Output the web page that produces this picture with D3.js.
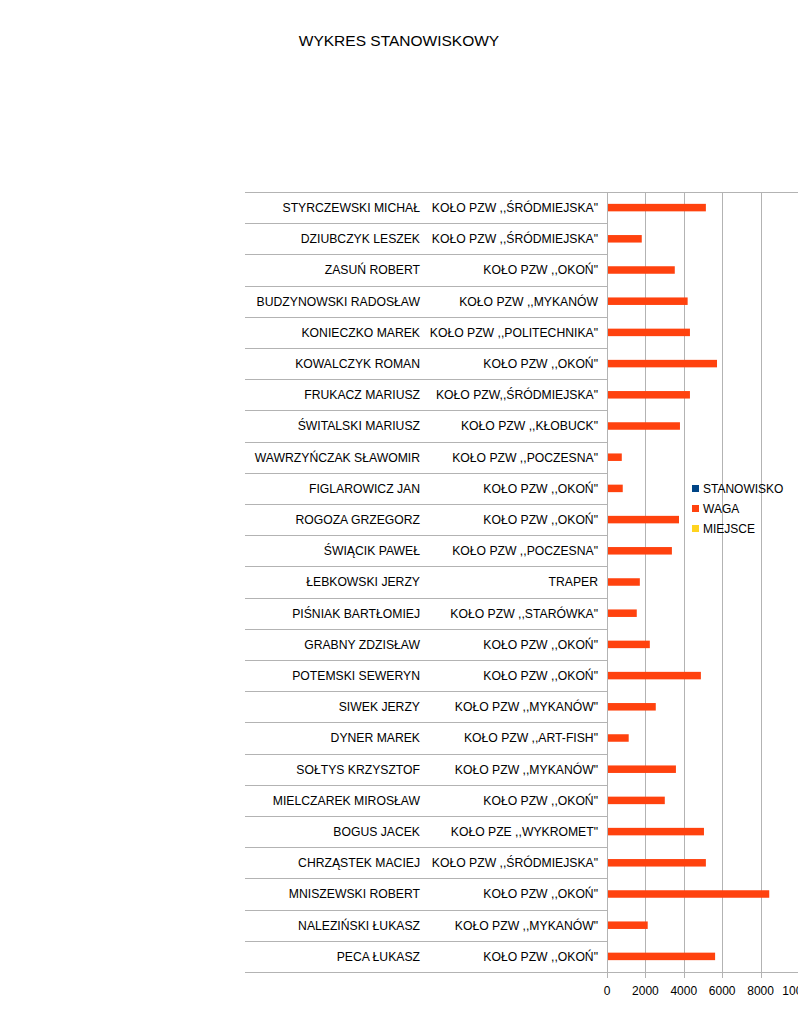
<!DOCTYPE html>
<html>
<head>
<meta charset="utf-8">
<script src="https://cdn.jsdelivr.net/npm/d3@7"></script>
<style>
  html, body { margin: 0; padding: 0; background: #fff; }
  svg { display: block; }
  text { font-family: "Liberation Sans", Arial, sans-serif; fill: #000; }
</style>
</head>
<body>
<svg id="chart" width="798" height="1018"></svg>
<script>
const names = [
  "STYRCZEWSKI MICHAŁ", "DZIUBCZYK LESZEK", "ZASUŃ ROBERT", "BUDZYNOWSKI RADOSŁAW",
  "KONIECZKO MAREK", "KOWALCZYK ROMAN", "FRUKACZ MARIUSZ", "ŚWITALSKI MARIUSZ",
  "WAWRZYŃCZAK SŁAWOMIR", "FIGLAROWICZ JAN", "ROGOZA GRZEGORZ", "ŚWIĄCIK PAWEŁ",
  "ŁEBKOWSKI JERZY", "PIŚNIAK BARTŁOMIEJ", "GRABNY ZDZISŁAW", "POTEMSKI SEWERYN",
  "SIWEK JERZY", "DYNER MAREK", "SOŁTYS KRZYSZTOF", "MIELCZAREK MIROSŁAW",
  "BOGUS JACEK", "CHRZĄSTEK MACIEJ", "MNISZEWSKI ROBERT", "NALEZIŃSKI ŁUKASZ",
  "PECA ŁUKASZ"
];
const clubs = [
  "KOŁO PZW ,,ŚRÓDMIEJSKA\"", "KOŁO PZW ,,ŚRÓDMIEJSKA\"", "KOŁO PZW ,,OKOŃ\"", "KOŁO PZW ,,MYKANÓW",
  "KOŁO PZW ,,POLITECHNIKA\"", "KOŁO PZW ,,OKOŃ\"", "KOŁO PZW,,ŚRÓDMIEJSKA\"", "KOŁO PZW ,,KŁOBUCK\"",
  "KOŁO PZW ,,POCZESNA\"", "KOŁO PZW ,,OKOŃ\"", "KOŁO PZW ,,OKOŃ\"", "KOŁO PZW ,,POCZESNA\"",
  "TRAPER", "KOŁO PZW ,,STARÓWKA\"", "KOŁO PZW ,,OKOŃ\"", "KOŁO PZW ,,OKOŃ\"",
  "KOŁO PZW ,,MYKANÓW\"", "KOŁO PZW ,,ART-FISH\"", "KOŁO PZW ,,MYKANÓW\"", "KOŁO PZW ,,OKOŃ\"",
  "KOŁO PZE ,,WYKROMET\"", "KOŁO PZW ,,ŚRÓDMIEJSKA\"", "KOŁO PZW ,,OKOŃ\"", "KOŁO PZW ,,MYKANÓW\"",
  "KOŁO PZW ,,OKOŃ\""
];
const waga = [
  5150, 1810, 3530, 4200, 4320, 5730, 4320, 3800, 770, 820, 3750, 3380,
  1710, 1550, 2230, 4890, 2540, 1130, 3590, 3010, 5050, 5150, 8450, 2120, 5630
];
const xTicks = [0, 2000, 4000, 6000, 8000, 10000];
const seriesNames = ["STANOWISKO", "WAGA", "MIEJSCE"];
const seriesColors = ["#004586", "#ff420e", "#ffd320"];
const title = "WYKRES STANOWISKOWY";

(function () {
const svg = d3.select("#chart");
const grid = "#b3b3b3";
const pLeft = 245, axisX = 607, pRight = 798, pTop = 192, pBottom = 972;

const x = d3.scaleLinear().domain([0, 10000]).range([axisX, 799]);
const y = d3.scaleBand().domain(d3.range(names.length)).range([pTop, pBottom]);
const barH = 7.5;

// title
svg.append("text").attr("x", 399).attr("y", 46).attr("text-anchor", "middle")
  .style("font-size", "15.5px").text(title);

// vertical gridlines
svg.append("g").selectAll("line").data(xTicks.slice(1)).join("line")
  .attr("x1", d => Math.round(x(d)) + 0.5).attr("x2", d => Math.round(x(d)) + 0.5)
  .attr("y1", pTop).attr("y2", pBottom + 6).attr("stroke", grid).attr("stroke-width", 1);

// row separators (category axis lines)
const seps = d3.range(names.length + 1).map(i => i < names.length ? y(i) : pBottom);
svg.append("g").selectAll("line").data(seps).join("line")
  .attr("x1", pLeft).attr("x2", (d, i) => (i === 0 || i === names.length) ? pRight : axisX)
  .attr("y1", d => Math.round(d) + 0.5).attr("y2", d => Math.round(d) + 0.5)
  .attr("stroke", grid).attr("stroke-width", 1);

// value axis line at zero
svg.append("line").attr("x1", axisX + 0.5).attr("x2", axisX + 0.5)
  .attr("y1", pTop).attr("y2", pBottom + 6).attr("stroke", grid);

// bars
svg.append("g").selectAll("rect").data(waga).join("rect")
  .attr("x", x(0) + 1).attr("y", (d, i) => y(i) + y.bandwidth() / 2 - barH / 2)
  .attr("width", d => x(d) - x(0) - 1).attr("height", barH)
  .attr("fill", seriesColors[1]);

// labels
const lab = svg.append("g").style("font-size", "12.2px");
lab.selectAll("text.n").data(names).join("text").attr("class", "n")
  .attr("x", 420).attr("y", (d, i) => y(i) + y.bandwidth() / 2).attr("dy", "0.36em")
  .attr("text-anchor", "end").text(d => d);
lab.selectAll("text.c").data(clubs).join("text").attr("class", "c")
  .attr("x", 598).attr("y", (d, i) => y(i) + y.bandwidth() / 2).attr("dy", "0.36em")
  .attr("text-anchor", "end").text(d => d);

// x tick labels
svg.append("g").style("font-size", "12px").selectAll("text").data(xTicks).join("text")
  .attr("x", d => x(d)).attr("y", 995).attr("text-anchor", "middle").text(d => d);

// legend
const lg = svg.append("g").style("font-size", "12px");
seriesNames.forEach((s, i) => {
  const cy = 489 + i * 20;
  lg.append("rect").attr("x", 692).attr("y", cy - 4).attr("width", 7).attr("height", 7)
    .attr("fill", seriesColors[i]);
  lg.append("text").attr("x", 703).attr("y", cy).attr("dy", "0.36em").text(s);
});
})();
</script>
</body>
</html>
